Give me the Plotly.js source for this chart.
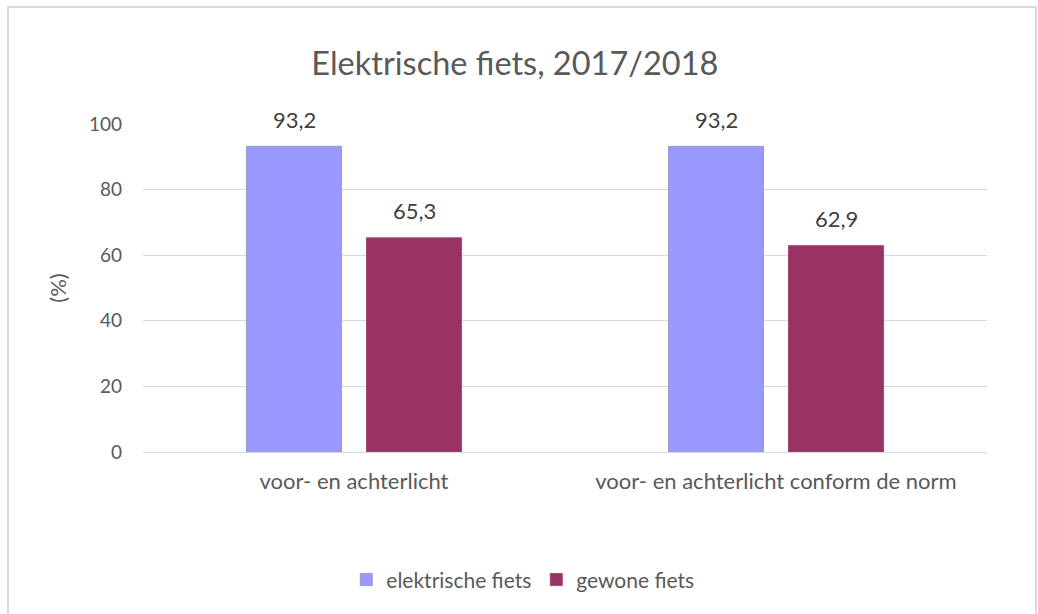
<!DOCTYPE html>
<html><head><meta charset="utf-8">
<script src="https://cdn.plot.ly/plotly-3.0.1.min.js"></script>
<style>html,body{margin:0;padding:0;background:#fff;}#wrap{position:relative;width:1038px;height:614px;overflow:hidden;}#chart{width:1038px;height:614px;}#frame{position:absolute;left:7px;top:6px;width:1026px;height:620px;border:2px solid #d9d9d9;pointer-events:none;}</style>
</head><body><div id="wrap"><div id="chart"></div><div id="frame"></div></div>
<script>
const categories = ["voor- en achterlicht", "voor- en achterlicht conform de norm"];
const seriesNames = ["elektrische fiets", "gewone fiets"];
const elektrisch = [93.2, 93.2];
const gewoon = [65.3, 62.9];
const yTicks = [0, 20, 40, 60, 80, 100];

const FONT = "Lato, 'Open Sans', sans-serif";
const fmt = v => v.toFixed(1).replace('.', ',');

const traces = [
  {type:'bar', name:seriesNames[0], x:categories, y:elektrisch,
   marker:{color:'#9999ff', line:{color:'#9a9ac8', width:1}}, hoverinfo:'none'},
  {type:'bar', name:seriesNames[1], x:categories, y:gewoon,
   marker:{color:'#993366', line:{color:'#a04a74', width:1}}, hoverinfo:'none'}
];

const annotations = [];
[elektrisch, gewoon].forEach((arr, si) => {
  arr.forEach((v, ci) => {
    annotations.push({x:categories[ci], y:v, xref:'x', yref:'y', text:fmt(v),
      showarrow:false, yanchor:'middle', yshift:27, xshift: si === 0 ? -60 : 60,
      font:{family:FONT, size:22, color:'#404040'}});
  });
});

const layout = {
  width:1038, height:614,
  margin:{l:143, r:51, t:124, b:162},
  paper_bgcolor:'#fff', plot_bgcolor:'#fff',
  separators:',.',
  barmode:'group', bargap:0.431, bargroupgap:0.208,
  title:{text:'Elektrische fiets, 2017/2018', font:{family:FONT, size:32.5, color:'#595959'},
    x:0.496, xanchor:'center', y:0.897, yanchor:'middle'},
  xaxis:{tickfont:{family:FONT, size:22, color:'#595959'}, showline:false, ticks:'',
    showgrid:false, fixedrange:true, ticklabelstandoff:14},
  yaxis:{range:[0,100], tickvals:yTicks, ticktext:yTicks.map(String),
    tickfont:{family:FONT, size:19, color:'#595959'},
    gridcolor:'#d9d9d9', gridwidth:1, zeroline:true, zerolinecolor:'#d9d9d9', zerolinewidth:1,
    ticks:'', ticklen:0, showline:false, ticklabelstandoff:20,
    title:{text:'(%)', font:{family:FONT, size:22, color:'#595959'}, standoff:16}},
  legend:{orientation:'h', x:0.45, xanchor:'center', y:-0.39, yanchor:'middle',
    font:{family:FONT, size:21, color:'#595959'}, itemwidth:30, tracegroupgap:0},
  annotations:annotations,
  showlegend:true
};
Plotly.newPlot('chart', traces, layout, {staticPlot:true, displayModeBar:false});
</script></body></html>
